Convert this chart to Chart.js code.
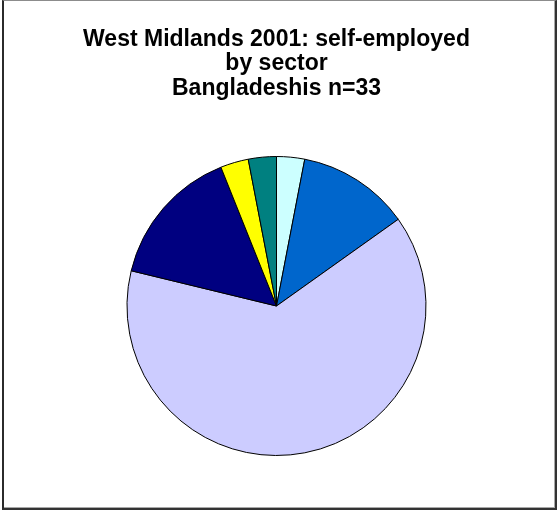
<!DOCTYPE html>
<html>
<head>
<meta charset="utf-8">
<script src="https://cdn.jsdelivr.net/npm/chart.js@4"></script>
<style>
  html, body { margin: 0; padding: 0; background: #fff; }
  #wrap { position: relative; width: 557px; height: 517px; }
  #frame {
    position: absolute; left: 2px; top: 0; width: 551px; height: 507px;
    border-left: 2px solid #2b2b2b; border-top: 1px solid #8c8c8c;
    border-right: 2px solid #333; border-bottom: 2px solid #333;
    box-shadow: inset -1px -1px 0 #a8a8a8;
    pointer-events: none;
  }
  canvas { position: absolute; left: 0; top: 0; }
</style>
</head>
<body>
<div id="wrap">
  <canvas id="pie" width="557" height="517"></canvas>
  <div id="frame"></div>
</div>
<script>
// sectors, clockwise from 12 o'clock
const sectors = [
  "Transport & communication",
  "Manufacturing",
  "Distribution, hotels & restaurants",
  "Banking, finance & insurance",
  "Construction",
  "Other services"
];
const counts = [1, 4, 21, 5, 1, 1];
const sliceColors = ["#ccffff", "#0066cc", "#ccccff", "#000080", "#ffff00", "#008080"];
const titleLines = ["West Midlands 2001: self-employed", "by sector", "Bangladeshis n=33"];

const ctx = document.getElementById("pie").getContext("2d");
new Chart(ctx, {
  type: "pie",
  data: {
    labels: sectors,
    datasets: [{
      data: counts,
      backgroundColor: sliceColors,
      borderColor: "#000",
      borderWidth: 1
    }]
  },
  options: {
    responsive: false,
    animation: false,
    layout: { padding: { left: 0, right: 4, top: 0, bottom: 61 } },
    plugins: {
      legend: { display: false },
      tooltip: { enabled: false },
      title: {
        display: true,
        text: titleLines,
        color: "#000",
        font: { family: "'Liberation Sans', Arial, sans-serif", size: 23, weight: "bold", lineHeight: "24.5px" },
        padding: { top: 27, bottom: 55.5 }
      }
    }
  }
});
</script>
</body>
</html>
